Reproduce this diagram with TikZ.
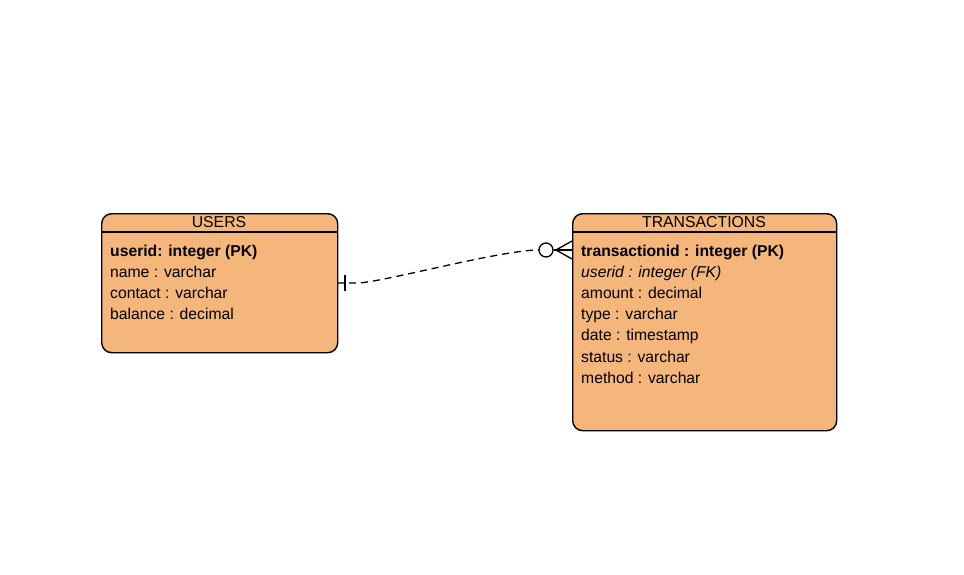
\documentclass[tikz,border=0pt]{standalone}
\usepackage{fontspec}
\setmainfont{Liberation Sans}
\definecolor{entfill}{HTML}{F4B67A}
\begin{document}
\begin{tikzpicture}[x=1pt,y=-1pt,
  entity/.style={draw=black,line width=1.4pt,fill=entfill,rounded corners=10pt,anchor=north west,inner sep=0pt},
  title/.style={anchor=base,inner sep=0pt,font=\fontsize{15.8}{19}\selectfont},
  row/.style={anchor=base west,inner sep=0pt,font=\fontsize{15.7}{19}\selectfont},
  rel/.style={line width=1.3pt,dash pattern=on 7pt off 5pt},
  relmark/.style={line width=1.3pt}]
\useasboundingbox (0,0) rectangle (964,575);
% USERS
\node[entity,minimum width=236pt,minimum height=139pt] (users) at (101,213) {};
\draw[line width=1.2pt] (101,232) coordinate (uh1) -- (337,232) coordinate (uh2);
\node[title] (ut) at (219,227) {USERS};
\node[row] (u1) at (110,256) {\bfseries userid: integer (PK)};
\node[row] (u2) at (110,277) {name : varchar};
\node[row] (u3) at (110,298) {contact : varchar};
\node[row] (u4) at (110,319) {balance : decimal};
% TRANSACTIONS
\node[entity,minimum width=264pt,minimum height=217pt] (trans) at (572,213) {};
\draw[line width=1.2pt] (572,232) coordinate (th1) -- (836,232) coordinate (th2);
\node[title] (tt) at (704,227) {TRANSACTIONS};
\node[row] (t1) at (581,256) {\bfseries transactionid : integer (PK)};
\node[row] (t2) at (581,277.2) {\itshape userid : integer (FK)};
\node[row] (t3) at (581,298.4) {amount : decimal};
\node[row] (t4) at (581,319.6) {type : varchar};
\node[row] (t5) at (581,340.8) {date : timestamp};
\node[row] (t6) at (581,362) {status : varchar};
\node[row] (t7) at (581,383.2) {method : varchar};
% relationship
\coordinate (ue) at (337,283);
\coordinate (te) at (572,250);
\coordinate (cl) at (539,250);
\draw[rel] (ue) -- (357,283) .. controls (380,283) and (500,250) .. (cl);
% one mark
\draw[relmark] (345,275) -- (345,291);
% zero-or-many
\node[draw,circle,line width=1.3pt,fill=white,minimum size=14pt,inner sep=0pt] (circ) at (546,250) {};
\draw[relmark] (circ.east) -- (te);
\draw[relmark] (te |- 0,241) -- (556,250) -- (te |- 0,259);
\end{tikzpicture}
\end{document}
